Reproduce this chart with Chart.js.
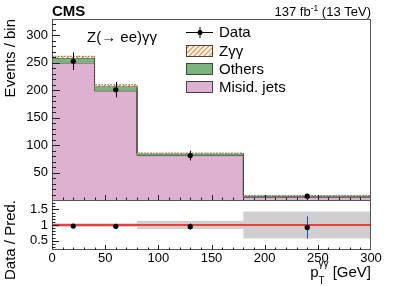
<!DOCTYPE html>
<html>
<head>
<meta charset="utf-8">
<script src="https://cdn.jsdelivr.net/npm/chart.js@4.4.1/dist/chart.umd.min.js"></script>
<style>
  html, body { margin: 0; padding: 0; background: #fff; }
  #wrap { width: 399px; height: 286px; position: relative; }
</style>
</head>
<body>
<div id="wrap"><canvas id="chart" width="399" height="286"></canvas></div>
<script>
// bins and contents
const binEdges = [0, 40, 80, 180, 300];
const misidJets = [250, 199, 81, 5];
const others = [9, 8, 3.5, 2];
const zgg = [3, 3, 1, 0.6];
const dataCounts = [253, 201, 81, 7];
const dataErr = [16, 14, 9, 2.7];
const predRelErr = [0.06, 0.06, 0.13, 0.43];

const xTicks = [0, 50, 100, 150, 200, 250, 300];
const yTicks = [50, 100, 150, 200, 250, 300];
const ratioTicks = [0.5, 1, 1.5];

const FONT = "'Liberation Sans', Arial, Helvetica, sans-serif";
const PINK = '#deb1d1';
const GREEN = '#7bb57b';
const ORANGE = '#f7913f';

// stacked tops
const stack1 = misidJets.slice();
const stack2 = stack1.map((v, i) => v + others[i]);
const stack3 = stack2.map((v, i) => v + zgg[i]);
const centers = binEdges.slice(0, -1).map((e, i) => (e + binEdges[i + 1]) / 2);
const ratio = dataCounts.map((d, i) => d / stack3[i]);
const ratioErr = dataErr.map((e, i) => e / stack3[i]);

function stepPoints(vals) {
  return binEdges.map((e, i) => ({x: e, y: vals[Math.min(i, vals.length - 1)]}));
}

function hatch() {
  const c = document.createElement('canvas');
  c.width = 5; c.height = 5;
  const g = c.getContext('2d');
  g.fillStyle = '#fff';
  g.fillRect(0, 0, 5, 5);
  g.strokeStyle = ORANGE;
  g.lineWidth = 1.3;
  g.beginPath();
  g.moveTo(-1, 6); g.lineTo(6, -1);
  g.moveTo(-1, 1); g.lineTo(1, -1);
  g.moveTo(4, 6); g.lineTo(6, 4);
  g.stroke();
  return g.createPattern(c, 'repeat');
}

const UNITY_INDEX = 5;

const histPlugin = {
  id: 'hist',
  // error bars go in right after the red line, so the markers sit on top of them
  afterDatasetDraw(chart, args) {
    if (args.index !== UNITY_INDEX) return;
    const ctx = chart.ctx;
    const x = chart.scales.x, y = chart.scales.y, yr = chart.scales.yr;
    ctx.save();
    ctx.strokeStyle = '#000';
    ctx.lineWidth = 1;
    centers.forEach((c, i) => {
      const px = Math.round(x.getPixelForValue(c)) + 0.5;
      ctx.beginPath();
      ctx.moveTo(px, y.getPixelForValue(dataCounts[i] + dataErr[i]));
      ctx.lineTo(px, y.getPixelForValue(dataCounts[i] - dataErr[i]));
      ctx.stroke();
    });
    ctx.strokeStyle = '#3d3db8';
    centers.forEach((c, i) => {
      const px = Math.round(x.getPixelForValue(c)) + 0.5;
      ctx.beginPath();
      ctx.moveTo(px, yr.getPixelForValue(ratio[i] + ratioErr[i]));
      ctx.lineTo(px, yr.getPixelForValue(ratio[i] - ratioErr[i]));
      ctx.stroke();
    });
    ctx.restore();
  },
  afterDraw(chart) {
    const ctx = chart.ctx;
    const x = chart.scales.x, y = chart.scales.y, yr = chart.scales.yr;
    const L = chart.chartArea.left, R = chart.chartArea.right;
    ctx.save();
    ctx.strokeStyle = '#555';
    ctx.lineWidth = 1;
    // frames
    ctx.strokeRect(L + 0.5, y.top + 0.5, R - L - 1, y.bottom - y.top);
    ctx.strokeRect(L + 0.5, yr.top + 0.5, R - L - 1, yr.bottom - yr.top - 1);
    ctx.strokeStyle = '#222';
    ctx.beginPath();
    // y ticks upper
    for (let v = 10; v < 330; v += 10) {
      const py = Math.round(y.getPixelForValue(v)) + 0.5;
      ctx.moveTo(L, py); ctx.lineTo(L + (v % 50 === 0 ? 8 : 4), py);
    }
    // y ticks ratio
    for (let k = 3; k <= 17; k++) {
      const v = k / 10;
      const py = Math.round(yr.getPixelForValue(v)) + 0.5;
      ctx.moveTo(L, py); ctx.lineTo(L + (k % 5 === 0 ? 7 : 3.5), py);
    }
    // x ticks both panels
    for (let v = 10; v < 300; v += 10) {
      const px = Math.round(x.getPixelForValue(v)) + 0.5;
      const major = v % 50 === 0;
      ctx.moveTo(px, y.bottom); ctx.lineTo(px, y.bottom - (major ? 5 : 2.5));
      ctx.moveTo(px, yr.bottom); ctx.lineTo(px, yr.bottom - (major ? 5 : 2.5));
    }
    ctx.stroke();

    // texts
    ctx.fillStyle = '#000';
    ctx.textBaseline = 'alphabetic';
    ctx.font = 'bold 15px ' + FONT;
    ctx.textAlign = 'left';
    ctx.fillText('CMS', L, 16);
    ctx.font = '13px ' + FONT;
    ctx.textAlign = 'right';
    ctx.fillText(' (13 TeV)', R, 16);
    let w = ctx.measureText(' (13 TeV)').width;
    ctx.font = '8.5px ' + FONT;
    ctx.fillText('-1', R - w, 10.5);
    w += ctx.measureText('-1').width;
    ctx.font = '13px ' + FONT;
    ctx.fillText('137 fb', R - w, 16);

    ctx.font = '15px ' + FONT;
    ctx.textAlign = 'left';
    ctx.fillText('Z(\u2192 ee)\u03b3\u03b3', 87, 42);

    // legend
    const lx = 186, lw = 27, tx = 219;
    const rows = [32, 51, 69, 87];
    ctx.strokeStyle = '#000';
    ctx.beginPath();
    ctx.moveTo(lx, rows[0] + 0.5); ctx.lineTo(lx + lw, rows[0] + 0.5);
    ctx.moveTo(lx + lw / 2 + 0.5, rows[0] - 5); ctx.lineTo(lx + lw / 2 + 0.5, rows[0] + 6);
    ctx.stroke();
    ctx.beginPath();
    ctx.arc(lx + lw / 2 + 0.5, rows[0] + 0.5, 2.5, 0, Math.PI * 2);
    ctx.fill();
    const fills = [hatch(), GREEN, PINK];
    ctx.strokeStyle = '#444';
    fills.forEach((f, i) => {
      const cy = rows[i + 1];
      ctx.fillStyle = f;
      ctx.fillRect(lx, cy - 6, lw, 12);
      ctx.strokeRect(lx + 0.5, cy - 5.5, lw - 1, 11);
    });
    ctx.fillStyle = '#000';
    ctx.font = '15px ' + FONT;
    ctx.textBaseline = 'middle';
    ['Data', 'Z\u03b3\u03b3', 'Others', 'Misid. jets'].forEach((t, i) => ctx.fillText(t, tx, rows[i] + 0.5));

    // axis titles
    ctx.font = '15px ' + FONT;
    ctx.textBaseline = 'alphabetic';
    ctx.save();
    ctx.translate(14.5, y.top);
    ctx.rotate(-Math.PI / 2);
    ctx.textAlign = 'right';
    ctx.fillText('Events / bin', 0, 0);
    ctx.restore();
    ctx.save();
    ctx.translate(14.5, yr.top);
    ctx.rotate(-Math.PI / 2);
    ctx.textAlign = 'right';
    ctx.fillText('Data / Pred.', 0, 0);
    ctx.restore();

    // x title: p_T^{γγ} [GeV]
    ctx.textAlign = 'left';
    ctx.font = '15px ' + FONT;
    const tail = ' [GeV]';
    const wTail = ctx.measureText(tail).width;
    const wp = ctx.measureText('p').width;
    ctx.font = '10px ' + FONT;
    const wSup = ctx.measureText('\u03b3\u03b3').width;
    const x0 = R - wTail - wSup - wp;
    ctx.font = '15px ' + FONT;
    ctx.fillText('p', x0, 277);
    ctx.fillText(tail, R - wTail, 277);
    ctx.font = '10px ' + FONT;
    ctx.fillText('\u03b3\u03b3', x0 + wp, 267);
    ctx.fillText('T', x0 + wp, 284);
    ctx.restore();
  }
};

const lineBase = {
  type: 'line', stepped: true, pointRadius: 0, borderWidth: 1, tension: 0
};

new Chart(document.getElementById('chart'), {
  type: 'line',
  data: {
    datasets: [
      Object.assign({}, lineBase, {
        label: 'Misid. jets', data: stepPoints(stack1), yAxisID: 'y',
        borderColor: '#333', backgroundColor: PINK, fill: 'origin', order: 4
      }),
      Object.assign({}, lineBase, {
        label: 'Others', data: stepPoints(stack2), yAxisID: 'y',
        borderColor: '#2e4a2e', backgroundColor: GREEN, fill: '-1', order: 3
      }),
      Object.assign({}, lineBase, {
        label: 'Zgg', data: stepPoints(stack3), yAxisID: 'y',
        borderColor: '#6b5a4a', borderDash: [1.5, 1.5], backgroundColor: hatch(), fill: '-1', order: 2
      }),
      Object.assign({}, lineBase, {
        label: 'bandLow', data: stepPoints(predRelErr.map(e => 1 - e)), yAxisID: 'yr',
        borderWidth: 0, borderColor: 'rgba(0,0,0,0)', fill: false, order: 6
      }),
      Object.assign({}, lineBase, {
        label: 'bandHigh', data: stepPoints(predRelErr.map(e => 1 + e)), yAxisID: 'yr',
        borderWidth: 0, borderColor: 'rgba(0,0,0,0)', backgroundColor: '#cfcfcf', fill: '-1', order: 5
      }),
      {
        type: 'line', label: 'unity', data: [{x: 0, y: 1}, {x: 300, y: 1}], yAxisID: 'yr',
        borderColor: '#f03c3c', borderWidth: 2, pointRadius: 0, fill: false, order: 1
      },
      {
        type: 'line', label: 'Data', data: centers.map((c, i) => ({x: c, y: dataCounts[i]})), yAxisID: 'y',
        showLine: false, pointRadius: 2.6, pointBackgroundColor: '#000', pointBorderWidth: 0, order: 0
      },
      {
        type: 'line', label: 'Ratio', data: centers.map((c, i) => ({x: c, y: ratio[i]})), yAxisID: 'yr',
        showLine: false, pointRadius: 2.6, pointBackgroundColor: '#000', pointBorderWidth: 0, order: 0
      }
    ]
  },
  options: {
    responsive: false,
    animation: false,
    devicePixelRatio: 1,
    layout: { padding: { left: 0, top: 19, right: 28, bottom: 0 } },
    plugins: { legend: { display: false }, tooltip: { enabled: false } },
    scales: {
      x: {
        type: 'linear', min: 0, max: 300, position: 'bottom',
        afterFit: s => { s.height = 36; },
        afterBuildTicks: s => { s.ticks = xTicks.map(v => ({value: v})); },
        grid: { display: false, drawTicks: false },
        border: { display: false },
        ticks: { color: '#000', padding: 1, autoSkip: false, font: { family: FONT, size: 13 }, maxRotation: 0 }
      },
      // the first scale of a stack sits at the bottom
      yr: {
        type: 'linear', min: 0.2, max: 1.8, position: 'left', stack: 'panels', stackWeight: 1,
        afterFit: s => { s.width = 52; },
        afterBuildTicks: s => { s.ticks = ratioTicks.map(v => ({value: v})); },
        grid: { display: false, drawTicks: false },
        border: { display: false },
        ticks: { color: '#000', padding: 4, autoSkip: false, callback: v => String(v), font: { family: FONT, size: 13 } }
      },
      y: {
        type: 'linear', min: 0, max: 330, position: 'left', stack: 'panels', stackWeight: 3.62,
        afterFit: s => { s.width = 52; },
        afterBuildTicks: s => { s.ticks = yTicks.map(v => ({value: v})); },
        grid: { display: false, drawTicks: false },
        border: { display: false },
        ticks: { color: '#000', padding: 4, autoSkip: false, font: { family: FONT, size: 13 } }
      }
    }
  },
  plugins: [histPlugin]
});
</script>
</body>
</html>
